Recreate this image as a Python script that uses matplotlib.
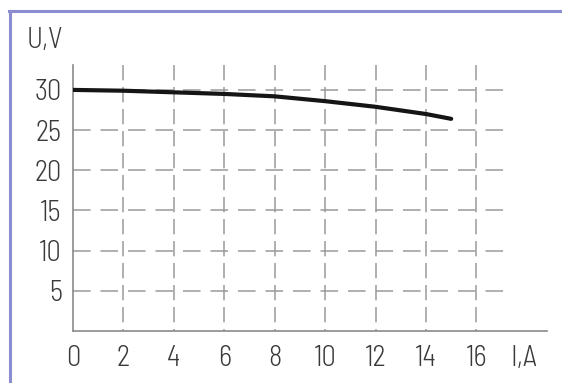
import matplotlib
matplotlib.use("Agg")
import matplotlib.pyplot as plt
from matplotlib.lines import Line2D

# ---- data ----
current_a = [0, 2, 4, 6, 8, 10, 12, 14, 15]
voltage_v = [30.0, 29.9, 29.7, 29.5, 29.2, 28.6, 27.9, 27.0, 26.4]
x_ticks = [0, 2, 4, 6, 8, 10, 12, 14, 16]
y_ticks = [5, 10, 15, 20, 25, 30]
x_label = "I,A"
y_label = "U,V"

plt.rcParams['font.family'] = ['Barlow Semi Condensed', 'Liberation Sans Narrow', 'DejaVu Sans']
plt.rcParams['font.weight'] = 300
W, H = 562, 383
fig = plt.figure(figsize=(W / 100, H / 100), dpi=100)
fig.patch.set_facecolor("white")

# border (top + left)
border_c = "#8c8cd0"
fig.add_artist(Line2D([10 / W, 10 / W], [0, 1 - 11 / H], transform=fig.transFigure,
                      color=border_c, lw=2.2))
fig.add_artist(Line2D([9 / W, 1], [1 - 11 / H, 1 - 11 / H], transform=fig.transFigure,
                      color=border_c, lw=2.2))

ax_l, ax_r, ax_b, ax_t = 73, 547, 331, 65
ax = fig.add_axes([ax_l / W, 1 - ax_b / H, (ax_r - ax_l) / W, (ax_b - ax_t) / H])
ax.set_xlim(0, 18.8)
ax.set_ylim(0, 33.1)

grid_c = "#9a9a9a"
# horizontal dashed grid
for yv in y_ticks:
    ax.plot([0, 17.1], [yv, yv], color=grid_c, lw=1.1,
            dashes=(11.5, 6.5), dash_capstyle='butt', zorder=1)
# vertical dashed grid (drawn from top down)
for xv in x_ticks[1:]:
    ax.plot([xv, xv], [33.1, 0], color=grid_c, lw=1.1,
            dashes=(10.0, 4.4), dash_capstyle='butt', zorder=1)

ax.plot(current_a, voltage_v, color="#151515", lw=3.0, solid_capstyle='round', zorder=3)

for s in ['top', 'right']:
    ax.spines[s].set_visible(False)
for s in ['left', 'bottom']:
    ax.spines[s].set_color("#8a8a8a")
    ax.spines[s].set_linewidth(1.2)

txt_c = "#3a3a3a"
fs = 20.5
ax.set_xticks(x_ticks)
ax.set_xticklabels([str(v) for v in x_ticks])
ax.set_yticks(y_ticks)
ax.set_yticklabels([str(v) for v in y_ticks])
ax.tick_params(axis='both', length=0, labelsize=fs, labelcolor=txt_c)
ax.tick_params(axis='x', pad=10)
ax.tick_params(axis='y', pad=8)

fig.text(27 / W, 1 - 40 / H, y_label, fontsize=fs, color=txt_c, ha='left', va='center')
fig.text(510 / W, 1 - 358 / H, x_label, fontsize=fs, color=txt_c, ha='left', va='center')

fig.savefig("out.png", dpi=100)
